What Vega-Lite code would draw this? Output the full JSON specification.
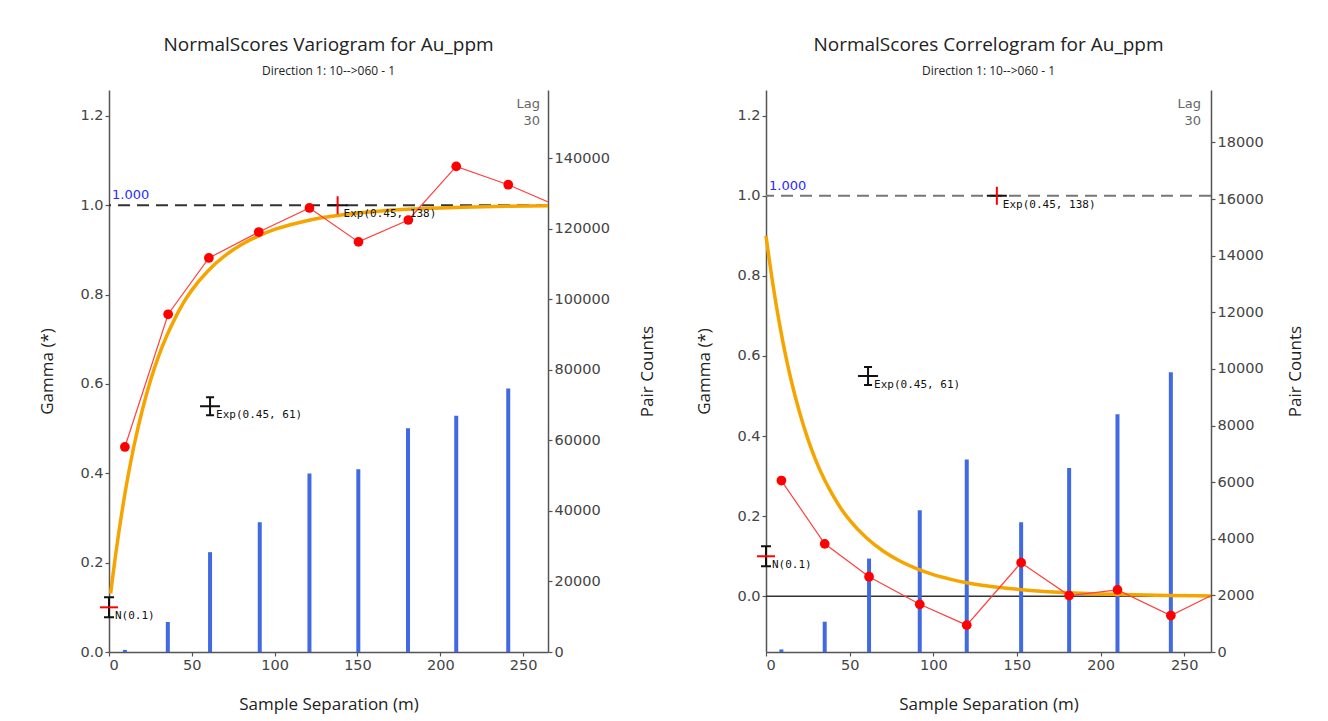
{
  "$schema": "https://vega.github.io/schema/vega-lite/v6.json",
  "background": "white",
  "padding": {"left": 38, "top": 36, "right": 5, "bottom": 2},
  "spacing": 40,
  "config": {
    "view": {"stroke": null},
    "axis": {"grid": false, "domainColor": "#555", "domainWidth": 1.5, "tickColor": "#555", "tickSize": 4, "tickWidth": 1.2, "labelFont": "DejaVu Sans", "labelFontSize": 14.5, "labelColor": "#444", "labelPadding": 2, "titleFont": "Open Sans", "titleFontSize": 17, "titleFontWeight": "normal", "titleColor": "#222"},
    "axisX": {"titlePadding": 25},
    "title": {"anchor": "middle", "frame": "group", "font": "Open Sans", "fontSize": 19, "fontWeight": "normal", "color": "#222", "subtitleFont": "Open Sans", "subtitleFontSize": 12, "subtitleColor": "#222", "subtitlePadding": 11, "offset": 13}
  },
  "datasets": {
    "vario_pairs": [
      {"lag": 9.6, "pairs": 600}, {"lag": 35.5, "pairs": 8500}, {"lag": 61, "pairs": 28300}, {"lag": 91, "pairs": 36800}, {"lag": 121, "pairs": 50600}, {"lag": 150.5, "pairs": 51800}, {"lag": 180.5, "pairs": 63400}, {"lag": 209.6, "pairs": 67000}, {"lag": 241, "pairs": 74700}
    ],
    "vario_exp": [
      {"lag": 9.6, "gamma": 0.459}, {"lag": 35.7, "gamma": 0.756}, {"lag": 60.3, "gamma": 0.882}, {"lag": 90.4, "gamma": 0.94}, {"lag": 121, "gamma": 0.994}, {"lag": 150.6, "gamma": 0.918}, {"lag": 180.7, "gamma": 0.967}, {"lag": 209.6, "gamma": 1.087}, {"lag": 241, "gamma": 1.046}, {"lag": 271, "gamma": 0.998}
    ],
    "vario_model": [
      {"lag": 1, "gamma": 0.131}, {"lag": 2, "gamma": 0.161}, {"lag": 4, "gamma": 0.218}, {"lag": 6, "gamma": 0.27}, {"lag": 8, "gamma": 0.318}, {"lag": 10, "gamma": 0.363}, {"lag": 12, "gamma": 0.404}, {"lag": 15, "gamma": 0.46}, {"lag": 20, "gamma": 0.54}, {"lag": 25, "gamma": 0.607}, {"lag": 30, "gamma": 0.663}, {"lag": 35, "gamma": 0.709}, {"lag": 40, "gamma": 0.748}, {"lag": 45, "gamma": 0.782}, {"lag": 50, "gamma": 0.81}, {"lag": 60, "gamma": 0.854}, {"lag": 70, "gamma": 0.887}, {"lag": 80, "gamma": 0.912}, {"lag": 90, "gamma": 0.931}, {"lag": 100, "gamma": 0.946}, {"lag": 110, "gamma": 0.957}, {"lag": 120, "gamma": 0.966}, {"lag": 130, "gamma": 0.973}, {"lag": 140, "gamma": 0.978}, {"lag": 160, "gamma": 0.986}, {"lag": 180, "gamma": 0.991}, {"lag": 200, "gamma": 0.994}, {"lag": 220, "gamma": 0.996}, {"lag": 240, "gamma": 0.998}, {"lag": 265, "gamma": 0.999}
    ],
    "corr_pairs": [
      {"lag": 9.2, "pairs": 90}, {"lag": 35.1, "pairs": 1070}, {"lag": 61.6, "pairs": 3300}, {"lag": 91.9, "pairs": 5010}, {"lag": 120, "pairs": 6800}, {"lag": 152.5, "pairs": 4580}, {"lag": 181.2, "pairs": 6500}, {"lag": 210.1, "pairs": 8400}, {"lag": 242, "pairs": 9880}
    ],
    "corr_exp": [
      {"lag": 9.2, "gamma": 0.289}, {"lag": 35.1, "gamma": 0.131}, {"lag": 61.6, "gamma": 0.049}, {"lag": 91.9, "gamma": -0.02}, {"lag": 120, "gamma": -0.072}, {"lag": 152.5, "gamma": 0.084}, {"lag": 181.2, "gamma": 0.002}, {"lag": 210.1, "gamma": 0.016}, {"lag": 242, "gamma": -0.048}, {"lag": 272, "gamma": 0.014}
    ],
    "corr_model": [
      {"lag": 0, "gamma": 0.9}, {"lag": 1, "gamma": 0.869}, {"lag": 2, "gamma": 0.839}, {"lag": 4, "gamma": 0.782}, {"lag": 6, "gamma": 0.73}, {"lag": 8, "gamma": 0.682}, {"lag": 10, "gamma": 0.637}, {"lag": 12, "gamma": 0.596}, {"lag": 15, "gamma": 0.54}, {"lag": 20, "gamma": 0.46}, {"lag": 25, "gamma": 0.393}, {"lag": 30, "gamma": 0.337}, {"lag": 35, "gamma": 0.291}, {"lag": 40, "gamma": 0.252}, {"lag": 45, "gamma": 0.218}, {"lag": 50, "gamma": 0.19}, {"lag": 60, "gamma": 0.146}, {"lag": 70, "gamma": 0.113}, {"lag": 80, "gamma": 0.088}, {"lag": 90, "gamma": 0.069}, {"lag": 100, "gamma": 0.054}, {"lag": 110, "gamma": 0.043}, {"lag": 120, "gamma": 0.034}, {"lag": 130, "gamma": 0.027}, {"lag": 140, "gamma": 0.022}, {"lag": 160, "gamma": 0.014}, {"lag": 180, "gamma": 0.009}, {"lag": 200, "gamma": 0.006}, {"lag": 220, "gamma": 0.004}, {"lag": 240, "gamma": 0.002}, {"lag": 266, "gamma": 0.001}
    ],
    "structures": [
      {"lag": 0, "gamma": 0.1, "structure": "nugget", "label": "N(0.1)"},
      {"lag": 61, "gamma": 0.55, "structure": "range1", "label": "Exp(0.45, 61)"},
      {"lag": 138, "gamma": 1.0, "structure": "range2", "label": "Exp(0.45, 138)"}
    ]
  },
  "hconcat": [
    {
      "width": 439,
      "height": 562,
      "title": {"text": "NormalScores Variogram for Au_ppm", "subtitle": "Direction 1: 10-->060 - 1"},
      "layer": [
        {
          "data": {"name": "vario_pairs"},
          "mark": {"type": "rule", "strokeWidth": 4, "color": "#4169e1", "strokeCap": "butt"},
          "encoding": {
            "x": {"field": "lag", "type": "quantitative", "scale": {"domain": [0, 265], "nice": false, "zero": false}, "axis": {"title": "Sample Separation (m)", "values": [0, 50, 100, 150, 200, 250], "format": "d"}},
            "y": {"field": "pairs", "type": "quantitative", "scale": {"domain": [0, 159300], "nice": false, "zero": false}, "axis": {"orient": "right", "title": "Pair Counts", "values": [0, 20000, 40000, 60000, 80000, 100000, 120000, 140000], "format": "d", "minExtent": 62, "maxExtent": 62, "titlePadding": 29, "titleAngle": 270, "titleBaseline": "top"}},
            "y2": {"datum": 0}
          }
        },
        {
          "layer": [
            {
              "data": {"values": [{}]},
              "mark": {"type": "rule", "strokeDash": [12, 7], "strokeWidth": 1.8, "color": "#333"},
              "encoding": {"y": {"datum": 1, "type": "quantitative", "scale": {"domain": [0, 1.258], "nice": false, "zero": false}, "axis": {"orient": "left", "title": "Gamma (*)", "values": [0, 0.2, 0.4, 0.6, 0.8, 1, 1.2], "format": ".1f", "minExtent": 30, "maxExtent": 30, "titlePadding": 23}}}
            },
            {
              "data": {"values": [{}]},
              "mark": {"type": "text", "text": "1.000", "align": "left", "baseline": "bottom", "dx": 3, "dy": -3, "font": "DejaVu Sans", "fontSize": 13, "color": "#2b2bff"},
              "encoding": {"x": {"datum": 0, "type": "quantitative"}, "y": {"datum": 1, "type": "quantitative"}}
            },
            {
              "data": {"name": "vario_model"},
              "mark": {"type": "line", "color": "#f6a500", "strokeWidth": 3.5, "interpolate": "monotone"},
              "encoding": {"x": {"field": "lag", "type": "quantitative"}, "y": {"field": "gamma", "type": "quantitative"}}
            },
            {
              "data": {"name": "vario_exp"},
              "mark": {"type": "line", "color": "#ff4040", "strokeWidth": 1.2, "clip": true},
              "encoding": {"x": {"field": "lag", "type": "quantitative"}, "y": {"field": "gamma", "type": "quantitative"}}
            },
            {
              "data": {"name": "vario_exp"},
              "mark": {"type": "point", "filled": true, "color": "#ff0000", "opacity": 1, "size": 95, "clip": true},
              "encoding": {"x": {"field": "lag", "type": "quantitative"}, "y": {"field": "gamma", "type": "quantitative"}}
            },
            {
              "data": {"name": "structures"},
              "transform": [{"filter": "datum.structure == 'nugget'"}],
              "mark": {"type": "point", "shape": "M0,-1V1M-0.5,-1H0.5M-0.5,1H0.5", "filled": false, "color": "#111", "strokeWidth": 2, "opacity": 1, "size": 400},
              "encoding": {"x": {"field": "lag", "type": "quantitative"}, "y": {"field": "gamma", "type": "quantitative"}}
            },
            {
              "data": {"name": "structures"},
              "transform": [{"filter": "datum.structure == 'range1'"}],
              "mark": {"type": "point", "shape": "M-1,0H1M0,-0.9V0.9M-0.4,-0.9H0.4M-0.4,0.9H0.4", "filled": false, "color": "#111", "strokeWidth": 2, "opacity": 1, "size": 400},
              "encoding": {"x": {"field": "lag", "type": "quantitative"}, "y": {"field": "gamma", "type": "quantitative"}}
            },
            {
              "data": {"name": "structures"},
              "transform": [{"filter": "datum.structure == 'range2'"}],
              "mark": {"type": "point", "shape": "M-1,0H1", "filled": false, "color": "#111", "strokeWidth": 2, "opacity": 1, "size": 400},
              "encoding": {"x": {"field": "lag", "type": "quantitative"}, "y": {"field": "gamma", "type": "quantitative"}}
            },
            {
              "data": {"name": "structures"},
              "transform": [{"filter": "datum.structure == 'nugget'"}],
              "mark": {"type": "point", "shape": "M-1,0H1", "filled": false, "color": "#ff0000", "strokeWidth": 2, "opacity": 1, "size": 324},
              "encoding": {"x": {"field": "lag", "type": "quantitative"}, "y": {"field": "gamma", "type": "quantitative"}}
            },
            {
              "data": {"name": "structures"},
              "transform": [{"filter": "datum.structure == 'range2'"}],
              "mark": {"type": "point", "shape": "M0,-1V1", "filled": false, "color": "#ff0000", "strokeWidth": 2, "opacity": 1, "size": 324},
              "encoding": {"x": {"field": "lag", "type": "quantitative"}, "y": {"field": "gamma", "type": "quantitative"}}
            },
            {
              "data": {"name": "structures"},
              "mark": {"type": "text", "align": "left", "baseline": "middle", "dx": 6, "dy": 9, "font": "DejaVu Sans Mono", "fontSize": 11, "color": "#111"},
              "encoding": {"x": {"field": "lag", "type": "quantitative"}, "y": {"field": "gamma", "type": "quantitative"}, "text": {"field": "label"}}
            },
            {
              "data": {"values": [{}]},
              "mark": {"type": "text", "text": ["Lag", "30"], "align": "right", "baseline": "top", "dx": -8, "dy": 8, "lineHeight": 17, "font": "DejaVu Sans", "fontSize": 13, "color": "#666"},
              "encoding": {"x": {"datum": 265, "type": "quantitative"}, "y": {"datum": 1.258, "type": "quantitative"}}
            }
          ]
        }
      ],
      "resolve": {"scale": {"y": "independent"}}
    },
    {
      "width": 445,
      "height": 562,
      "title": {"text": "NormalScores Correlogram for Au_ppm", "subtitle": "Direction 1: 10-->060 - 1"},
      "layer": [
        {
          "data": {"values": [{}]},
          "layer": [
            {
              "mark": {"type": "rule", "strokeWidth": 1.5, "color": "#333"},
              "encoding": {"y": {"datum": 0, "type": "quantitative", "scale": {"domain": [-0.139, 1.264], "nice": false, "zero": false}, "axis": null}}
            },
            {
              "mark": {"type": "rule", "strokeDash": [12, 7], "strokeWidth": 1.8, "color": "#777"},
              "encoding": {"y": {"datum": 1, "type": "quantitative", "axis": null}}
            }
          ]
        },
        {
          "data": {"name": "corr_pairs"},
          "mark": {"type": "rule", "strokeWidth": 4, "color": "#4169e1", "strokeCap": "butt"},
          "encoding": {
            "x": {"field": "lag", "type": "quantitative", "scale": {"domain": [0, 266], "nice": false, "zero": false}, "axis": {"title": "Sample Separation (m)", "values": [0, 50, 100, 150, 200, 250], "format": "d"}},
            "y": {"field": "pairs", "type": "quantitative", "scale": {"domain": [0, 19850], "nice": false, "zero": false}, "axis": {"orient": "right", "title": "Pair Counts", "values": [0, 2000, 4000, 6000, 8000, 10000, 12000, 14000, 16000, 18000], "format": "d", "minExtent": 56, "maxExtent": 56, "titlePadding": 20, "titleAngle": 270, "titleBaseline": "top"}},
            "y2": {"datum": 0}
          }
        },
        {
          "layer": [
            {
              "data": {"values": [{}]},
              "mark": {"type": "text", "text": "1.000", "align": "left", "baseline": "bottom", "dx": 3, "dy": -3, "font": "DejaVu Sans", "fontSize": 13, "color": "#2b2bff"},
              "encoding": {"x": {"datum": 0, "type": "quantitative"}, "y": {"datum": 1, "type": "quantitative", "scale": {"domain": [-0.139, 1.264], "nice": false, "zero": false}, "axis": {"orient": "left", "title": "Gamma (*)", "values": [0, 0.2, 0.4, 0.6, 0.8, 1, 1.2], "format": ".1f", "minExtent": 30, "maxExtent": 30, "titlePadding": 23}}}
            },
            {
              "data": {"name": "corr_model"},
              "mark": {"type": "line", "color": "#f6a500", "strokeWidth": 3.5, "interpolate": "monotone"},
              "encoding": {"x": {"field": "lag", "type": "quantitative"}, "y": {"field": "gamma", "type": "quantitative"}}
            },
            {
              "data": {"name": "corr_exp"},
              "mark": {"type": "line", "color": "#ff4040", "strokeWidth": 1.2, "clip": true},
              "encoding": {"x": {"field": "lag", "type": "quantitative"}, "y": {"field": "gamma", "type": "quantitative"}}
            },
            {
              "data": {"name": "corr_exp"},
              "mark": {"type": "point", "filled": true, "color": "#ff0000", "opacity": 1, "size": 95, "clip": true},
              "encoding": {"x": {"field": "lag", "type": "quantitative"}, "y": {"field": "gamma", "type": "quantitative"}}
            },
            {
              "data": {"name": "structures"},
              "transform": [{"filter": "datum.structure == 'nugget'"}],
              "mark": {"type": "point", "shape": "M0,-1V1M-0.5,-1H0.5M-0.5,1H0.5", "filled": false, "color": "#111", "strokeWidth": 2, "opacity": 1, "size": 400},
              "encoding": {"x": {"field": "lag", "type": "quantitative"}, "y": {"field": "gamma", "type": "quantitative"}}
            },
            {
              "data": {"name": "structures"},
              "transform": [{"filter": "datum.structure == 'range1'"}],
              "mark": {"type": "point", "shape": "M-1,0H1M0,-0.9V0.9M-0.4,-0.9H0.4M-0.4,0.9H0.4", "filled": false, "color": "#111", "strokeWidth": 2, "opacity": 1, "size": 400},
              "encoding": {"x": {"field": "lag", "type": "quantitative"}, "y": {"field": "gamma", "type": "quantitative"}}
            },
            {
              "data": {"name": "structures"},
              "transform": [{"filter": "datum.structure == 'range2'"}],
              "mark": {"type": "point", "shape": "M-1,0H1", "filled": false, "color": "#111", "strokeWidth": 2, "opacity": 1, "size": 400},
              "encoding": {"x": {"field": "lag", "type": "quantitative"}, "y": {"field": "gamma", "type": "quantitative"}}
            },
            {
              "data": {"name": "structures"},
              "transform": [{"filter": "datum.structure == 'nugget'"}],
              "mark": {"type": "point", "shape": "M-1,0H1", "filled": false, "color": "#ff0000", "strokeWidth": 2, "opacity": 1, "size": 324},
              "encoding": {"x": {"field": "lag", "type": "quantitative"}, "y": {"field": "gamma", "type": "quantitative"}}
            },
            {
              "data": {"name": "structures"},
              "transform": [{"filter": "datum.structure == 'range2'"}],
              "mark": {"type": "point", "shape": "M0,-1V1", "filled": false, "color": "#ff0000", "strokeWidth": 2, "opacity": 1, "size": 324},
              "encoding": {"x": {"field": "lag", "type": "quantitative"}, "y": {"field": "gamma", "type": "quantitative"}}
            },
            {
              "data": {"name": "structures"},
              "mark": {"type": "text", "align": "left", "baseline": "middle", "dx": 6, "dy": 9, "font": "DejaVu Sans Mono", "fontSize": 11, "color": "#111"},
              "encoding": {"x": {"field": "lag", "type": "quantitative"}, "y": {"field": "gamma", "type": "quantitative"}, "text": {"field": "label"}}
            },
            {
              "data": {"values": [{}]},
              "mark": {"type": "text", "text": ["Lag", "30"], "align": "right", "baseline": "top", "dx": -10, "dy": 8, "lineHeight": 17, "font": "DejaVu Sans", "fontSize": 13, "color": "#666"},
              "encoding": {"x": {"datum": 266, "type": "quantitative"}, "y": {"datum": 1.264, "type": "quantitative"}}
            }
          ]
        }
      ],
      "resolve": {"scale": {"y": "independent"}}
    }
  ]
}
